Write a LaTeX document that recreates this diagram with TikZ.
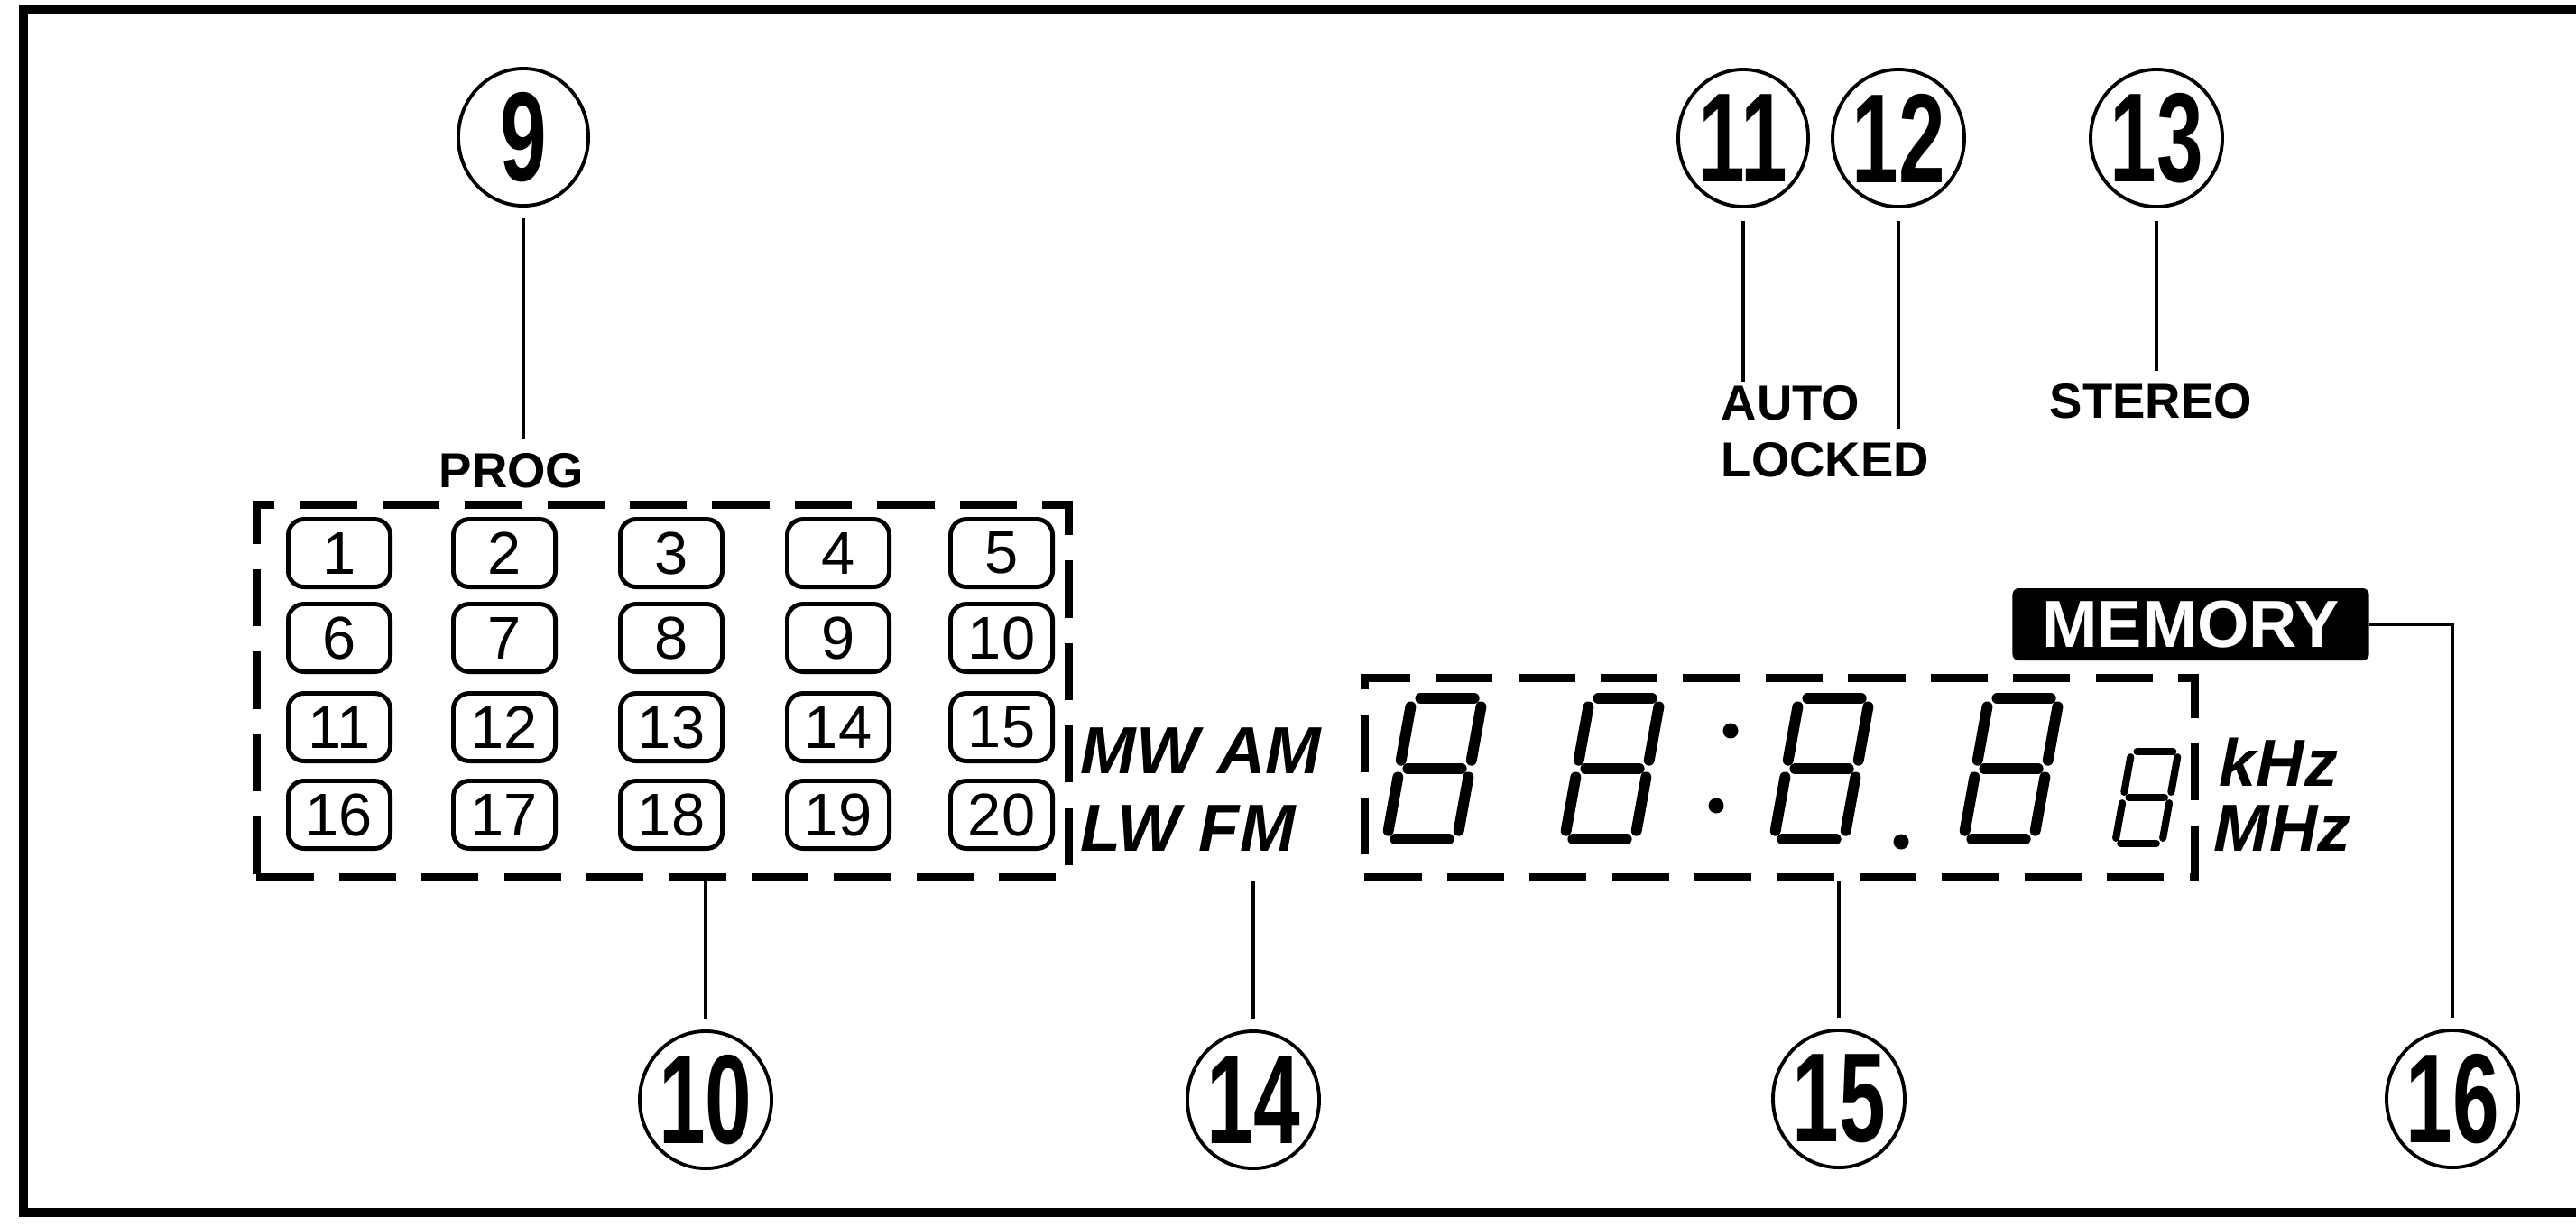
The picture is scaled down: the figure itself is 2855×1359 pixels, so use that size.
\documentclass[tikz,border=0pt]{standalone}
\usepackage{fontspec}
\setmainfont{Liberation Sans}
\newfontfamily\callfont[FakeStretch=0.66]{Liberation Sans}
\usetikzlibrary{shapes.geometric}

% slanted seven-segment digit: [line width]{x}{bottom y}{height}{width}
\newcommand{\lcddigit}[5][3.4pt]{%
  \begin{scope}[shift={(#2,#3)}, xslant=0.18, line width=#1, line cap=round]
    \pgfmathsetmacro{\segh}{#4/2}\pgfmathsetmacro{\segg}{0.06*#4}
    \draw (\segg,0) -- ({#5-\segg},0);
    \draw (\segg,-\segh) -- ({#5-\segg},-\segh);
    \draw (\segg,-#4) -- ({#5-\segg},-#4);
    \draw (0,-\segg) -- (0,{-\segh+\segg});
    \draw (0,{-\segh-\segg}) -- (0,{-#4+\segg});
    \draw (#5,-\segg) -- (#5,{-\segh+\segg});
    \draw (#5,{-\segh-\segg}) -- (#5,{-#4+\segg});
  \end{scope}}

\begin{document}
\begin{tikzpicture}[
  x=0.01cm, y=-0.01cm,
  callout/.style={draw, ellipse, line width=1.1pt, inner sep=0pt,
                  minimum width=1.44cm, minimum height=1.52cm,
                  font=\callfont\bfseries\fontsize{40}{40}\selectfont},
  preset/.style={draw, rounded corners=5pt, line width=1.4pt, inner sep=0pt,
                 minimum width=1.13cm, minimum height=0.75cm,
                 font=\fontsize{19}{19}\selectfont},
  dashbox/.style={draw, line width=2.6pt, dash pattern=on 18pt off 8pt, inner sep=0pt},
  lbl/.style={inner sep=0pt, font=\bfseries\fontsize{15.5}{18}\selectfont},
  band/.style={inner sep=0pt, anchor=west, font=\bfseries\itshape\fontsize{21}{24}\selectfont},
  memo/.style={fill=black, text=white, rounded corners=2pt, inner sep=0pt,
               minimum width=3.95cm, minimum height=0.8cm,
               font=\bfseries\fontsize{21}{24}\selectfont},
  lead/.style={line width=1.3pt},
  frame/.style={line width=2.8pt},
]
\useasboundingbox (0,0) rectangle (2855,1359);

% --- panel outline (open on the right) ---
\draw[frame] (2855,10) -- (26,10) -- (26,1344) -- (2855,1344);

% --- preset memory block ---
\node[dashbox, minimum width=9.0cm, minimum height=4.13cm] (progbox) at (734.5,766) {};
\node[lbl] (prog) at (567,522) {PROG};

\node[preset] (b1)  at (376,613) {1};  \node[preset] (b2)  at (559,613) {2};
\node[preset] (b3)  at (744,613) {3};  \node[preset] (b4)  at (929,613) {4};
\node[preset] (b5)  at (1110,613) {5};
\node[preset] (b6)  at (376,707) {6};  \node[preset] (b7)  at (559,707) {7};
\node[preset] (b8)  at (744,707) {8};  \node[preset] (b9)  at (929,707) {9};
\node[preset] (b10) at (1110,707) {10};
\node[preset] (b11) at (376,806) {11}; \node[preset] (b12) at (559,806) {12};
\node[preset] (b13) at (744,806) {13}; \node[preset] (b14) at (929,806) {14};
\node[preset] (b15) at (1110,806) {15};
\node[preset] (b16) at (376,903) {16}; \node[preset] (b17) at (559,903) {17};
\node[preset] (b18) at (744,903) {18}; \node[preset] (b19) at (929,903) {19};
\node[preset] (b20) at (1110,903) {20};

% --- band indicators ---
\node[band] (bandmw) at (1197,832) {MW AM};
\node[band] (bandlw) at (1197,918) {LW FM};

% --- frequency display ---
\node[dashbox, minimum width=9.2cm, minimum height=2.21cm] (dispbox) at (1972.5,862) {};
\lcddigit{1537}{930}{156}{78}
\lcddigit{1734}{930}{156}{78}
\fill (1918,810) circle[radius=0.85mm];
\fill (1902,893) circle[radius=0.85mm];
\lcddigit{1966}{930}{156}{78}
\fill (2107,933) circle[radius=0.85mm];
\lcddigit{2176}{930}{156}{78}
\lcddigit[2.3pt]{2344}{935}{102}{52}

\node[band] (khz) at (2459,845) {kHz};
\node[band] (mhz) at (2453,918) {MHz};

\node[memo] (memory) at (2428,692) {MEMORY};

% --- tuner status labels ---
\node[lbl, anchor=west] (auto)   at (1907,447) {AUTO};
\node[lbl, anchor=west] (locked) at (1907,510) {LOCKED};
\node[lbl] (stereo) at (2384,445) {STEREO};

% --- callout numbers ---
\node[callout] (c9)  at (580,152)  {9};
\node[callout] (c11) at (1932,153) {11};
\node[callout] (c12) at (2104,153) {12};
\node[callout] (c13) at (2390,153) {13};
\node[callout] (c10) at (782,1219) {10};
\node[callout] (c14) at (1389,1219) {14};
\node[callout] (c15) at (2038,1218) {15};
\node[callout] (c16) at (2718,1218) {16};

% --- leader lines ---
\draw[lead, shorten <=1.2mm, shorten >=1.5mm] (c9) -- (c9 |- prog.north);
\draw[lead, shorten <=1.4mm, shorten >=0.4mm] (c11) -- (c11 |- auto.north);
\draw[lead, shorten <=1.4mm, shorten >=1.5mm] (c12) -- (c12 |- locked.north);
\draw[lead, shorten <=1.4mm, shorten >=1.4mm] (c13) -- (c13 |- stereo.north);
\draw[lead, shorten >=1.2mm] (progbox.south -| c10) -- (c10);
\draw[lead, shorten >=1.2mm] (progbox.south -| c14) -- (c14);
\draw[lead, shorten >=1.2mm] (dispbox.south -| c15) -- (c15);
\draw[lead, shorten >=1.2mm] (memory.east) -- (memory.east -| c16) -- (c16);
\end{tikzpicture}
\end{document}
